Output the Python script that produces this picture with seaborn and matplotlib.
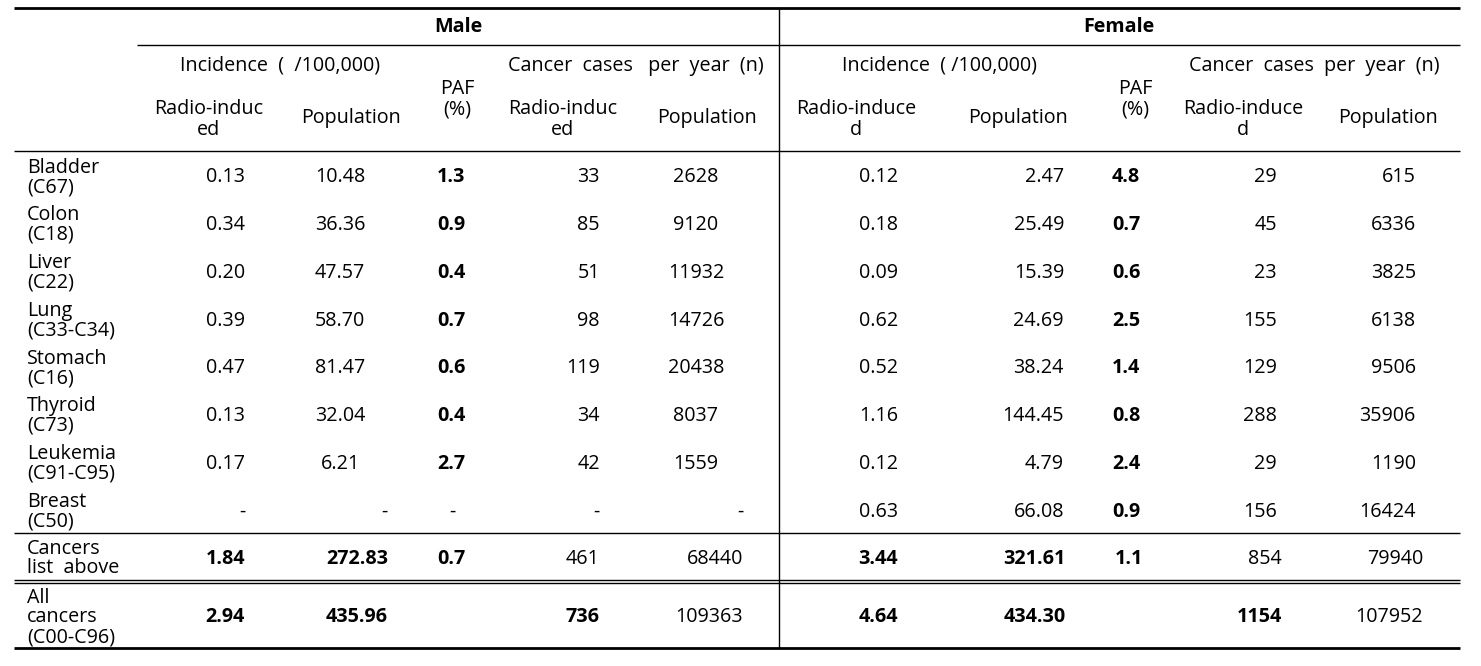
import matplotlib
matplotlib.use("Agg")
import matplotlib.pyplot as plt
import seaborn as sns

sns.set_theme(style="white")
plt.rcParams['font.family'] = ['Open Sans', 'DejaVu Sans']
plt.rcParams['text.color'] = 'black'

# ---------------- data ----------------
sites = ["Bladder\n(C67)", "Colon\n(C18)", "Liver\n(C22)", "Lung\n(C33-C34)",
         "Stomach\n(C16)", "Thyroid\n(C73)", "Leukemia\n(C91-C95)", "Breast\n(C50)"]
total_labels = ["Cancers\nlist  above", "All\ncancers\n(C00-C96)"]

male_inc_radio = ["0.13", "0.34", "0.20", "0.39", "0.47", "0.13", "0.17", "-"]
male_inc_pop = ["10.48", "36.36", "47.57", "58.70", "81.47", "32.04", "6.21", "-"]
male_paf = ["1.3", "0.9", "0.4", "0.7", "0.6", "0.4", "2.7", "-"]
male_cases_radio = ["33", "85", "51", "98", "119", "34", "42", "-"]
male_cases_pop = ["2628", "9120", "11932", "14726", "20438", "8037", "1559", "-"]

female_inc_radio = ["0.12", "0.18", "0.09", "0.62", "0.52", "1.16", "0.12", "0.63"]
female_inc_pop = ["2.47", "25.49", "15.39", "24.69", "38.24", "144.45", "4.79", "66.08"]
female_paf = ["4.8", "0.7", "0.6", "2.5", "1.4", "0.8", "2.4", "0.9"]
female_cases_radio = ["29", "45", "23", "155", "129", "288", "29", "156"]
female_cases_pop = ["615", "6336", "3825", "6138", "9506", "35906", "1190", "16424"]

# totals rows: [Cancers list above, All cancers]
tot_male_inc_radio = ["1.84", "2.94"]
tot_male_inc_pop = ["272.83", "435.96"]
tot_male_paf = ["0.7", ""]
tot_male_cases_radio = ["461", "736"]
tot_male_cases_pop = ["68440", "109363"]
tot_female_inc_radio = ["3.44", "4.64"]
tot_female_inc_pop = ["321.61", "434.30"]
tot_female_paf = ["1.1", ""]
tot_female_cases_radio = ["854", "1154"]
tot_female_cases_pop = ["79940", "107952"]

# bold flags for the totals rows
tot_bold = {
    "male_inc_radio": [True, True], "male_inc_pop": [True, True], "male_paf": [True, True],
    "male_cases_radio": [False, True], "male_cases_pop": [False, False],
    "female_inc_radio": [True, True], "female_inc_pop": [True, True], "female_paf": [True, True],
    "female_cases_radio": [False, True], "female_cases_pop": [False, False],
}

# ---------------- layout ----------------
W, H = 1481, 666
fig = plt.figure(figsize=(W / 100, H / 100), dpi=100)
ax = fig.add_axes([0, 0, 1, 1])
ax.set_xlim(0, W)
ax.set_ylim(H, 0)
ax.axis("off")

FS = 14.2
LS_ROW = 0.97
LS_HEAD = 1.05
DY = 2.5
x_left, x_right = 14, 1460
x_div = 779

def hline(y, x0=x_left, x1=x_right, lw=1.0):
    ax.plot([x0, x1], [y, y], color="black", lw=lw, solid_capstyle="butt")

def txt(x, y, s, **kw):
    ax.text(x, y + DY, s, va="center", fontsize=FS, **kw)

# rules
hline(7.5, lw=2.0)
hline(45, x0=137)
hline(151)
hline(533)
hline(579.5)
hline(582.5)
hline(648, lw=2.0)
ax.plot([x_div, x_div], [8, 647], color="black", lw=1.0)

# header text
txt(458, 24, "Male", ha="center", fontweight="bold")
txt(1119, 24, "Female", ha="center", fontweight="bold")
txt(280, 63, "Incidence  (  /100,000)", ha="center")
txt(636, 63, "Cancer  cases   per  year  (n)", ha="center")
txt(940, 63, "Incidence  ( /100,000)", ha="center")
txt(1314, 63, "Cancer  cases  per  year  (n)", ha="center")

sub_headers = [(209, "Radio-induc\ned", 117), (351, "Population", 116), (457, "PAF\n(%)", 97),
               (563, "Radio-induc\ned", 117), (707, "Population", 116),
               (856, "Radio-induce\nd", 117), (1018, "Population", 116), (1135, "PAF\n(%)", 97),
               (1243, "Radio-induce\nd", 117), (1388, "Population", 116)]
for x, t, y in sub_headers:
    txt(x, y, t, ha="center", linespacing=LS_HEAD)

# columns: (values, body_bold, body_x, body_ha, dash_x, dash_ha, totals, totals_key, tot_x, tot_ha)
columns = [
    (male_inc_radio, False, 245, "right", 245, "right", tot_male_inc_radio, "male_inc_radio", 245, "right"),
    (male_inc_pop, False, 340, "center", 388, "right", tot_male_inc_pop, "male_inc_pop", 388, "right"),
    (male_paf, True, 451, "center", 452, "center", tot_male_paf, "male_paf", 451, "center"),
    (male_cases_radio, False, 600, "right", 600, "right", tot_male_cases_radio, "male_cases_radio", 600, "right"),
    (male_cases_pop, False, 696, "center", 743, "right", tot_male_cases_pop, "male_cases_pop", 743, "right"),
    (female_inc_radio, False, 898, "right", 898, "right", tot_female_inc_radio, "female_inc_radio", 898, "right"),
    (female_inc_pop, False, 1064, "right", 1064, "right", tot_female_inc_pop, "female_inc_pop", 1066, "right"),
    (female_paf, True, 1126, "center", 1126, "center", tot_female_paf, "female_paf", 1129, "center"),
    (female_cases_radio, False, 1277, "right", 1277, "right", tot_female_cases_radio, "female_cases_radio", 1282, "right"),
    (female_cases_pop, False, 1416, "right", 1416, "right", tot_female_cases_pop, "female_cases_pop", 1423, "right"),
]

body_top = 151
row_h = (533 - 151) / len(sites)
for i, lab in enumerate(sites):
    yc = body_top + row_h * (i + 0.5)
    txt(27, yc, lab, ha="left", linespacing=LS_ROW)
    for vals, bold, bx, bha, dx, dha, *_ in columns:
        v = vals[i]
        if v == "-":
            txt(dx, yc, v, ha=dha)
        else:
            txt(bx, yc, v, ha=bha, fontweight="bold" if bold else "normal")

total_y = [556, 615]
for j, lab in enumerate(total_labels):
    yc = total_y[j]
    txt(27, yc, lab, ha="left", linespacing=LS_ROW)
    for vals, bold, bx, bha, dx, dha, tvals, key, tx, tha in columns:
        v = tvals[j]
        if v:
            txt(tx, yc, v, ha=tha, fontweight="bold" if tot_bold[key][j] else "normal")

fig.savefig("out.png", dpi=100, facecolor="white")
